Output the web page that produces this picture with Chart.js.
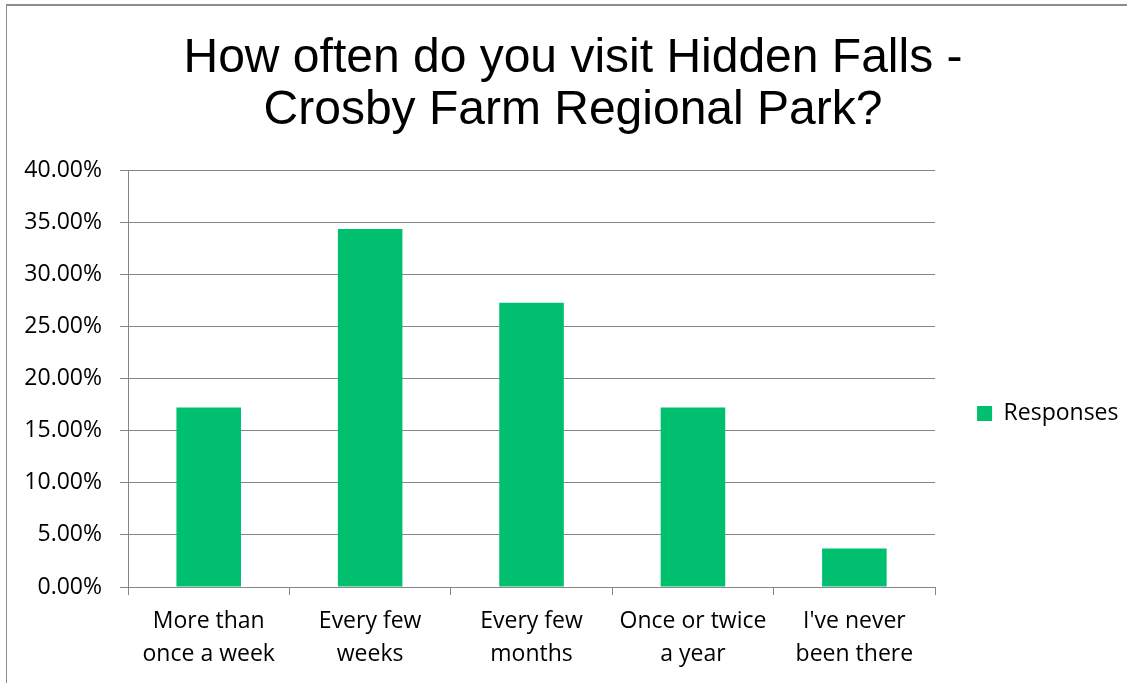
<!DOCTYPE html>
<html>
<head>
<meta charset="utf-8">
<script src="https://cdn.jsdelivr.net/npm/chart.js@4.4.1/dist/chart.umd.min.js"></script>
<style>
  html, body { margin: 0; padding: 0; background: #fff; overflow: hidden; }
  #frame { position: absolute; left: 6px; top: 4px; border-top: 2px solid #8c8c8c; border-left: 1px solid #8c8c8c; }
  canvas { display: block; }
</style>
</head>
<body>
<div id="frame"><canvas id="visitChart" width="1132" height="677"></canvas></div>
<script>
// survey answers
const categories = [
  ['More than', 'once a week'],
  ['Every few', 'weeks'],
  ['Every few', 'months'],
  ['Once or twice', 'a year'],
  ["I've never", 'been there']
];
const responses = [17.24, 34.4, 27.3, 17.24, 3.7];
const yMin = 0;
const yMax = 40;
const yStep = 5;

const gridColor = '#868686';
const barColor = '#00bf6f';
const labelFont = { family: '"Open Sans", sans-serif', size: 23, lineHeight: 1.435 };

// legend sits a bit below the middle of the canvas, like in the original
const legendOffset = {
  id: 'legendOffset',
  afterLayout(chart) {
    chart.legend.top += 69;
    chart.legend.bottom += 69;
  }
};

const visitChart = new Chart(document.getElementById('visitChart'), {
  type: 'bar',
  data: {
    labels: categories,
    datasets: [{
      label: 'Responses',
      data: responses,
      backgroundColor: barColor,
      borderWidth: 0,
      barPercentage: 0.4,
      categoryPercentage: 1.0
    }]
  },
  plugins: [legendOffset],
  options: {
    responsive: false,
    animation: false,
    layout: {
      padding: { top: 0, left: 10.5, right: 10.5, bottom: 0 }
    },
    plugins: {
      title: {
        display: true,
        text: ['How often do you visit Hidden Falls -', 'Crosby Farm Regional Park?'],
        color: '#000',
        font: { family: '"Liberation Sans", Arial, sans-serif', size: 48, weight: 'normal', lineHeight: 1.1 },
        padding: { top: 26, bottom: 33 }
      },
      legend: {
        position: 'right',
        labels: {
          boxWidth: 15,
          boxHeight: 15,
          padding: 42,
          color: '#000',
          font: labelFont
        }
      },
      tooltip: { enabled: false }
    },
    scales: {
      x: {
        grid: {
          display: true,
          drawOnChartArea: false,
          drawTicks: true,
          tickLength: 8,
          color: gridColor,
          offset: true
        },
        border: { display: true, color: gridColor },
        ticks: {
          color: '#000',
          font: labelFont,
          padding: 10,
          maxRotation: 0,
          autoSkip: false
        },
        afterFit: (scale) => { scale.height = 96; }
      },
      y: {
        min: yMin,
        max: yMax,
        grid: {
          color: gridColor,
          tickLength: 8
        },
        border: { display: true, color: gridColor },
        ticks: {
          stepSize: yStep,
          color: '#000',
          font: labelFont,
          padding: 18,
          callback: (v) => v.toFixed(2) + '%'
        },
        afterFit: (scale) => { scale.width = 110.5; }
      }
    }
  }
});
</script>
</body>
</html>
